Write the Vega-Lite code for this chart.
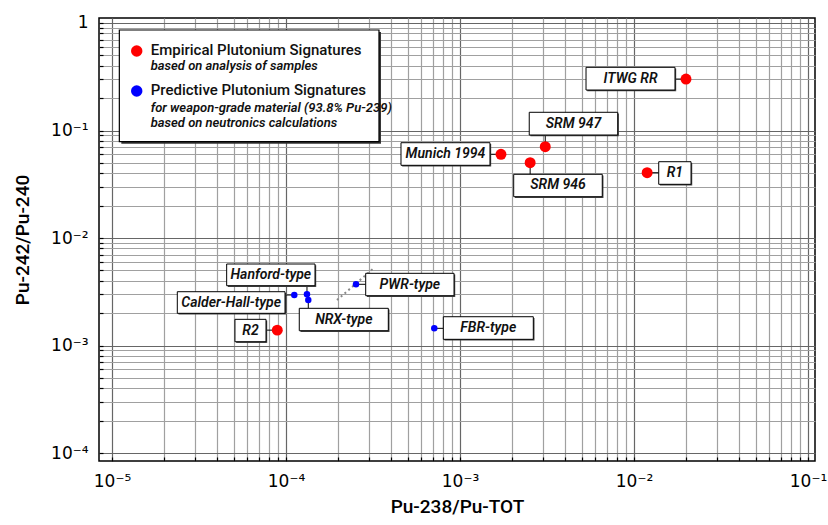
{
  "$schema": "https://vega.github.io/schema/vega-lite/v6.json",
  "width": 716,
  "height": 443,
  "autosize": {"type": "none"},
  "padding": {"left": 99, "top": 18, "right": 13, "bottom": 64},
  "background": "white",
  "config": {
    "view": {"stroke": "black", "strokeWidth": 1.5},
    "font": "Roboto, sans-serif"
  },
  "datasets": {
    "points": [
      {"name": "ITWG RR", "group": "Empirical", "x": 0.0199, "y": 0.301},
      {"name": "SRM 947", "group": "Empirical", "x": 0.00309, "y": 0.0707},
      {"name": "Munich 1994", "group": "Empirical", "x": 0.00172, "y": 0.0601},
      {"name": "SRM 946", "group": "Empirical", "x": 0.00253, "y": 0.0502},
      {"name": "R1", "group": "Empirical", "x": 0.0119, "y": 0.0405},
      {"name": "R2", "group": "Empirical", "x": 0.0000891, "y": 0.00139},
      {"name": "Calder-Hall-type", "group": "Predictive", "x": 0.0001116, "y": 0.00295},
      {"name": "Hanford-type", "group": "Predictive", "x": 0.000132, "y": 0.002995},
      {"name": "NRX-type", "group": "Predictive", "x": 0.0001343, "y": 0.00265},
      {"name": "PWR-type", "group": "Predictive", "x": 0.0002526, "y": 0.00371},
      {"name": "FBR-type", "group": "Predictive", "x": 0.0007115, "y": 0.001445}
    ],
    "labels": [
      {"name": "ITWG RR", "tx": 0.00955, "ty": 0.303, "x1": 0.0053, "x2": 0.0172, "y1": 0.387, "y2": 0.238, "px": 0.0199, "py": 0.301, "ex": 0.0172, "ey": 0.301},
      {"name": "SRM 947", "tx": 0.00449, "ty": 0.1157, "x1": 0.0025, "x2": 0.00806, "y1": 0.1477, "y2": 0.0908, "px": 0.00309, "py": 0.0707, "ex": 0.00309, "ey": 0.0908},
      {"name": "Munich 1994", "tx": 0.000825, "ty": 0.0604, "x1": 0.000458, "x2": 0.001487, "y1": 0.077, "y2": 0.04746, "px": 0.00172, "py": 0.0601, "ex": 0.001487, "ey": 0.0601},
      {"name": "SRM 946", "tx": 0.00366, "ty": 0.0308, "x1": 0.002035, "x2": 0.00657, "y1": 0.03914, "y2": 0.02422, "px": 0.00253, "py": 0.0502, "ex": 0.00253, "ey": 0.03914},
      {"name": "R1", "tx": 0.01717, "ty": 0.04024, "x1": 0.01387, "x2": 0.02127, "y1": 0.05125, "y2": 0.03159, "px": 0.0119, "py": 0.0405, "ex": 0.01387, "ey": 0.0405},
      {"name": "R2", "tx": 0.0000625, "ty": 0.001379, "x1": 0.0000509, "x2": 0.00007675, "y1": 0.001752, "y2": 0.0010846, "px": 0.0000891, "py": 0.00139, "ex": 0.00007675, "ey": 0.00139},
      {"name": "Calder-Hall-type", "tx": 0.0000484, "ty": 0.002512, "x1": 0.00002373, "x2": 0.0000987, "y1": 0.003166, "y2": 0.001993, "px": 0.0001116, "py": 0.00295, "ex": 0.0000987, "ey": 0.00295},
      {"name": "Hanford-type", "tx": 0.0000818, "ty": 0.004541, "x1": 0.0000456, "x2": 0.0001468, "y1": 0.00573, "y2": 0.0036, "px": 0.000132, "py": 0.002995, "ex": 0.000132, "ey": 0.0036},
      {"name": "NRX-type", "tx": 0.0002149, "ty": 0.001745, "x1": 0.0001192, "x2": 0.0003872, "y1": 0.002218, "y2": 0.001373, "px": 0.0001343, "py": 0.00265, "ex": 0.0001343, "ey": 0.002218},
      {"name": "PWR-type", "tx": 0.000515, "ty": 0.003693, "x1": 0.0002871, "x2": 0.000924, "y1": 0.004695, "y2": 0.002906, "px": 0.0002526, "py": 0.00371, "ex": 0.0002871, "ey": 0.00371},
      {"name": "FBR-type", "tx": 0.001454, "ty": 0.001455, "x1": 0.000802, "x2": 0.002638, "y1": 0.001853, "y2": 0.001142, "px": 0.0007115, "py": 0.001445, "ex": 0.000802, "ey": 0.001445}
    ],
    "guide": [
      {"x": 0.0001964, "y": 0.002651},
      {"x": 0.0003203, "y": 0.005259}
    ],
    "legendbox": [
      {"x1": 0.00001102, "x2": 0.0003423, "y1": 0.8608, "y2": 0.07866}
    ],
    "legenditems": [
      {"group": "Empirical", "x": 0.00001387, "y": 0.549},
      {"group": "Predictive", "x": 0.00001387, "y": 0.233}
    ],
    "legendtext": [
      {"kind": "main", "text": "Empirical Plutonium Signatures", "x": 0.00001669, "y": 0.504},
      {"kind": "sub", "text": "based on analysis of samples", "x": 0.00001669, "y": 0.3654},
      {"kind": "main", "text": "Predictive Plutonium Signatures", "x": 0.00001669, "y": 0.2125},
      {"kind": "sub", "text": "for weapon-grade material (93.8% Pu-239)", "x": 0.00001669, "y": 0.1486},
      {"kind": "sub", "text": "based on neutronics calculations", "x": 0.00001669, "y": 0.1085}
    ]
  },
  "layer": [
    {
      "data": {"name": "guide"},
      "mark": {"type": "line", "color": "#888888", "strokeWidth": 2, "strokeDash": [2, 3]},
      "encoding": {
        "x": {
          "field": "x", "type": "quantitative",
          "scale": {"type": "log", "domain": [0.00000842, 0.1097], "nice": false},
          "axis": {
            "title": "Pu-238/Pu-TOT",
            "titleFontSize": 19, "titleFontWeight": 500, "titleColor": "black", "titlePadding": 8,
            "values": [0.00001, 0.00002, 0.00003, 0.00004, 0.00005, 0.00006, 0.00007, 0.00008, 0.00009,
                       0.0001, 0.0002, 0.0003, 0.0004, 0.0005, 0.0006, 0.0007, 0.0008, 0.0009,
                       0.001, 0.002, 0.003, 0.004, 0.005, 0.006, 0.007, 0.008, 0.009,
                       0.01, 0.02, 0.03, 0.04, 0.05, 0.06, 0.07, 0.08, 0.09, 0.1],
            "labelExpr": "abs(log(datum.value)/LN10 - round(log(datum.value)/LN10)) < 0.001 ? (round(log(datum.value)/LN10) == 0 ? '1' : '10' + '\u207b' + ['', '\u00b9', '\u00b2', '\u00b3', '\u2074', '\u2075'][-round(log(datum.value)/LN10)]) : ''",
            "labelFont": "DejaVu Sans", "labelFontSize": 17, "labelColor": "black", "labelPadding": 16, "labelFlush": false, "labelOverlap": false,
            "grid": true,
            "gridColor": {"condition": {"test": "abs(log(datum.value)/LN10 - round(log(datum.value)/LN10)) < 0.001", "value": "#666666"}, "value": "#a0a0a0"},
            "gridWidth": 1.2,
            "domain": false,
            "ticks": true, "tickSize": -4, "tickColor": "black", "tickWidth": 1.2
          }
        },
        "y": {
          "field": "y", "type": "quantitative",
          "scale": {"type": "log", "domain": [0.0000843, 1.113], "nice": false},
          "axis": {
            "title": "Pu-242/Pu-240",
            "titleFontSize": 19, "titleFontWeight": 500, "titleColor": "black", "titlePadding": 18,
            "values": [0.0001, 0.0002, 0.0003, 0.0004, 0.0005, 0.0006, 0.0007, 0.0008, 0.0009,
                       0.001, 0.002, 0.003, 0.004, 0.005, 0.006, 0.007, 0.008, 0.009,
                       0.01, 0.02, 0.03, 0.04, 0.05, 0.06, 0.07, 0.08, 0.09,
                       0.1, 0.2, 0.3, 0.4, 0.5, 0.6, 0.7, 0.8, 0.9, 1],
            "labelExpr": "abs(log(datum.value)/LN10 - round(log(datum.value)/LN10)) < 0.001 ? (round(log(datum.value)/LN10) == 0 ? '1' : '10' + '\u207b' + ['', '\u00b9', '\u00b2', '\u00b3', '\u2074', '\u2075'][-round(log(datum.value)/LN10)]) : ''",
            "labelFont": "DejaVu Sans", "labelFontSize": 17, "labelColor": "black", "labelPadding": 15, "labelFlush": false, "labelOverlap": false,
            "grid": true,
            "gridColor": {"condition": {"test": "abs(log(datum.value)/LN10 - round(log(datum.value)/LN10)) < 0.001", "value": "#666666"}, "value": "#a0a0a0"},
            "gridWidth": 1.2,
            "domain": false,
            "ticks": true, "tickSize": -4, "tickColor": "black", "tickWidth": 1.2
          }
        }
      }
    },
    {
      "data": {"name": "labels"},
      "mark": {"type": "rule", "color": "black", "strokeWidth": 1},
      "encoding": {
        "x": {"field": "px", "type": "quantitative", "scale": {"type": "log", "domain": [0.00000842, 0.1097], "nice": false}},
        "y": {"field": "py", "type": "quantitative", "scale": {"type": "log", "domain": [0.0000843, 1.113], "nice": false}},
        "x2": {"field": "ex"},
        "y2": {"field": "ey"}
      }
    },
    {
      "data": {"name": "labels"},
      "mark": {"type": "rect", "fill": "#444444", "xOffset": 1.2, "x2Offset": 1.2, "yOffset": 1.2, "y2Offset": 1.2},
      "encoding": {
        "x": {"field": "x1", "type": "quantitative", "scale": {"type": "log", "domain": [0.00000842, 0.1097], "nice": false}},
        "x2": {"field": "x2"},
        "y": {"field": "y1", "type": "quantitative", "scale": {"type": "log", "domain": [0.0000843, 1.113], "nice": false}},
        "y2": {"field": "y2"}
      }
    },
    {
      "data": {"name": "labels"},
      "mark": {"type": "rect", "fill": "white", "stroke": "black", "strokeWidth": 1},
      "encoding": {
        "x": {"field": "x1", "type": "quantitative", "scale": {"type": "log", "domain": [0.00000842, 0.1097], "nice": false}},
        "x2": {"field": "x2"},
        "y": {"field": "y1", "type": "quantitative", "scale": {"type": "log", "domain": [0.0000843, 1.113], "nice": false}},
        "y2": {"field": "y2"}
      }
    },
    {
      "data": {"name": "labels"},
      "mark": {"type": "text", "fontSize": 14, "fontStyle": "italic", "fontWeight": 600, "color": "#111111", "align": "center", "baseline": "middle"},
      "encoding": {
        "x": {"field": "tx", "type": "quantitative", "scale": {"type": "log", "domain": [0.00000842, 0.1097], "nice": false}},
        "y": {"field": "ty", "type": "quantitative", "scale": {"type": "log", "domain": [0.0000843, 1.113], "nice": false}},
        "text": {"field": "name"}
      }
    },
    {
      "data": {"name": "points"},
      "mark": {"type": "point", "filled": true, "opacity": 1, "shape": "circle"},
      "encoding": {
        "x": {"field": "x", "type": "quantitative", "scale": {"type": "log", "domain": [0.00000842, 0.1097], "nice": false}},
        "y": {"field": "y", "type": "quantitative", "scale": {"type": "log", "domain": [0.0000843, 1.113], "nice": false}},
        "color": {"field": "group", "type": "nominal", "scale": {"domain": ["Empirical", "Predictive"], "range": ["#ff0000", "#0000ff"]}, "legend": null},
        "size": {"field": "group", "type": "ordinal", "scale": {"domain": ["Empirical", "Predictive"], "range": [120, 42]}, "legend": null}
      }
    },
    {
      "data": {"name": "legendbox"},
      "mark": {"type": "rect", "fill": "#333333", "xOffset": 2, "x2Offset": 2, "yOffset": 2, "y2Offset": 2},
      "encoding": {
        "x": {"field": "x1", "type": "quantitative", "scale": {"type": "log", "domain": [0.00000842, 0.1097], "nice": false}},
        "x2": {"field": "x2"},
        "y": {"field": "y1", "type": "quantitative", "scale": {"type": "log", "domain": [0.0000843, 1.113], "nice": false}},
        "y2": {"field": "y2"}
      }
    },
    {
      "data": {"name": "legendbox"},
      "mark": {"type": "rect", "fill": "white", "stroke": "black", "strokeWidth": 1.2},
      "encoding": {
        "x": {"field": "x1", "type": "quantitative", "scale": {"type": "log", "domain": [0.00000842, 0.1097], "nice": false}},
        "x2": {"field": "x2"},
        "y": {"field": "y1", "type": "quantitative", "scale": {"type": "log", "domain": [0.0000843, 1.113], "nice": false}},
        "y2": {"field": "y2"}
      }
    },
    {
      "data": {"name": "legenditems"},
      "mark": {"type": "point", "filled": true, "opacity": 1, "shape": "circle", "size": 130},
      "encoding": {
        "x": {"field": "x", "type": "quantitative", "scale": {"type": "log", "domain": [0.00000842, 0.1097], "nice": false}},
        "y": {"field": "y", "type": "quantitative", "scale": {"type": "log", "domain": [0.0000843, 1.113], "nice": false}},
        "color": {"field": "group", "type": "nominal", "scale": {"domain": ["Empirical", "Predictive"], "range": ["#ff0000", "#0000ff"]}, "legend": null}
      }
    },
    {
      "data": {"name": "legendtext"},
      "transform": [{"filter": "datum.kind == 'main'"}],
      "mark": {"type": "text", "fontSize": 15, "fontWeight": 500, "color": "#111111", "align": "left", "baseline": "alphabetic"},
      "encoding": {
        "x": {"field": "x", "type": "quantitative", "scale": {"type": "log", "domain": [0.00000842, 0.1097], "nice": false}},
        "y": {"field": "y", "type": "quantitative", "scale": {"type": "log", "domain": [0.0000843, 1.113], "nice": false}},
        "text": {"field": "text"}
      }
    },
    {
      "data": {"name": "legendtext"},
      "transform": [{"filter": "datum.kind == 'sub'"}],
      "mark": {"type": "text", "fontSize": 13, "fontStyle": "italic", "fontWeight": 600, "color": "#111111", "align": "left", "baseline": "alphabetic"},
      "encoding": {
        "x": {"field": "x", "type": "quantitative", "scale": {"type": "log", "domain": [0.00000842, 0.1097], "nice": false}},
        "y": {"field": "y", "type": "quantitative", "scale": {"type": "log", "domain": [0.0000843, 1.113], "nice": false}},
        "text": {"field": "text"}
      }
    }
  ]
}
